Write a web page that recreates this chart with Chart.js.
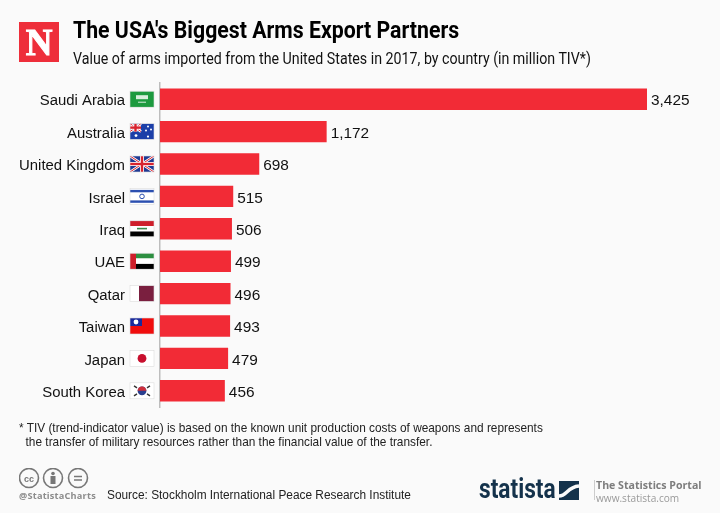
<!DOCTYPE html>
<html>
<head>
<meta charset="utf-8">
<script src="https://cdn.jsdelivr.net/npm/chart.js@4"></script>
<style>
  html, body { margin: 0; padding: 0; background: #fafafa; width: 720px; height: 513px; overflow: hidden; }
  #chart { position: absolute; left: 0; top: 0; }
  .txt { position: absolute; white-space: nowrap; transform-origin: left top; }
  #title { left: 73px; top: 17px; font: bold 23px Roboto, sans-serif; color: #000; transform: scaleX(0.925); }
  #subtitle { left: 73px; top: 49px; font: 16.5px Roboto, sans-serif; color: #111; transform: scaleX(0.862); }
  #logoN { position: absolute; left: 19px; top: 22px; width: 40px; height: 40px; background: #ee2e3a; color: #fff;
    font: bold 37px/42px "Liberation Serif", serif; text-align: center; -webkit-text-stroke: 1px #fff; }
  .note { left: 19px; font: 11.85px "Liberation Sans", sans-serif; color: #222; }
  #handle { left: 19px; top: 489px; font: bold 9.2px "Open Sans", sans-serif; color: #8c8c8c; letter-spacing: .2px; }
  #source { left: 107px; top: 488px; font: 11.87px "Liberation Sans", sans-serif; color: #222; }
  #statista { left: 479px; top: 473px; font: bold 27px Roboto, sans-serif; color: #14324b; transform: scaleX(0.84); }
  #portal { left: 596px; top: 478px; font: bold 10.6px "Open Sans", sans-serif; color: #7d7d7d; }
  #www { left: 596px; top: 491px; font: 10.1px "Open Sans", sans-serif; color: #9a9a9a; }
</style>
</head>
<body>
<canvas id="chart" width="720" height="513"></canvas>
<div id="logoN">N</div>
<div class="txt" id="title">The USA's Biggest Arms Export Partners</div>
<div class="txt" id="subtitle">Value of arms imported from the United States in 2017, by country (in million TIV*)</div>
<div class="txt note" style="top:421px">* TIV (trend-indicator value) is based on the known unit production costs of weapons and represents</div>
<div class="txt note" style="top:435px">&nbsp; the transfer of military resources rather than the financial value of the transfer.</div>
<svg style="position:absolute;left:19px;top:468px" width="72" height="22" fill="none" stroke="#777" stroke-width="1.6">
  <circle cx="10" cy="10" r="9.5"/><circle cx="34" cy="10" r="9.5"/><circle cx="59" cy="10" r="9.5"/>
  <text x="10" y="13.5" font-family="Liberation Sans" font-weight="bold" font-size="9" fill="#777" stroke="none" text-anchor="middle">cc</text>
  <circle cx="34" cy="5.5" r="1.8" fill="#777" stroke="none"/>
  <rect x="31.5" y="8" width="5" height="8" fill="#777" stroke="none"/>
  <path d="M55 8.5h8M55 12h8"/>
</svg>
<div class="txt" id="handle">@StatistaCharts</div>
<div class="txt" id="source">Source: Stockholm International Peace Research Institute</div>
<div class="txt" id="statista">statista</div>
<svg style="position:absolute;left:559px;top:481px" width="20" height="19">
  <rect width="20" height="19" fill="#14324b"/>
  <path d="M0 15C8 15 8 6 20 5" fill="none" stroke="#fafafa" stroke-width="3.5"/>
</svg>
<div style="position:absolute;left:594px;top:480px;width:1px;height:20px;background:#ccc"></div>
<div class="txt" id="portal">The Statistics Portal</div>
<div class="txt" id="www">www.statista.com</div>
<script>
document.addEventListener("DOMContentLoaded", () => {
  const countries = ["Saudi Arabia", "Australia", "United Kingdom", "Israel", "Iraq", "UAE", "Qatar", "Taiwan", "Japan", "South Korea"];
  const values = [3425, 1172, 698, 515, 506, 499, 496, 493, 479, 456];

  // flags are 24x16, drawn with origin at their top left corner
  const rect = (c, col, x, y, w, h) => { c.fillStyle = col; c.fillRect(x, y, w, h); };
  const disc = (c, col, x, y, r) => { c.fillStyle = col; c.beginPath(); c.arc(x, y, r, 0, Math.PI * 2); c.fill(); };
  const jack = (c, w, h) => {
    rect(c, "#1f3a93", 0, 0, w, h);
    c.lineWidth = 2.6; c.strokeStyle = "#fff";
    c.beginPath(); c.moveTo(0, 0); c.lineTo(w, h); c.moveTo(w, 0); c.lineTo(0, h); c.stroke();
    c.lineWidth = 1; c.strokeStyle = "#d8232f"; c.stroke();
    rect(c, "#fff", w / 2 - 2, 0, 4, h); rect(c, "#fff", 0, h / 2 - 2, w, 4);
    rect(c, "#d8232f", w / 2 - 1.2, 0, 2.4, h); rect(c, "#d8232f", 0, h / 2 - 1.2, w, 2.4);
  };
  const flags = {
    "Saudi Arabia": c => {
      rect(c, "#1d9a3f", 0, 0, 24, 16);
      rect(c, "#d8eedd", 6, 4, 12, 4);
      rect(c, "#d8eedd", 8, 10.5, 8, 1);
    },
    "Australia": c => {
      rect(c, "#1c3fa8", 0, 0, 24, 16);
      jack(c, 11, 8);
      [[6, 12, 1.4], [18, 3, 1], [21, 6, 1], [16, 7, 1], [18, 13, 1.1]].forEach(s => disc(c, "#fff", s[0], s[1], s[2]));
    },
    "United Kingdom": c => jack(c, 24, 16),
    "Israel": c => {
      rect(c, "#fff", 0, 0, 24, 16);
      rect(c, "#2b4fb0", 0, 1.5, 24, 2.4); rect(c, "#2b4fb0", 0, 12, 24, 2.4);
      c.strokeStyle = "#2b4fb0"; c.lineWidth = 1;
      c.beginPath(); c.arc(12, 8, 2.3, 0, Math.PI * 2); c.stroke();
    },
    "Iraq": c => {
      rect(c, "#ce1f2b", 0, 0, 24, 5.3); rect(c, "#fff", 0, 5.3, 24, 5.4); rect(c, "#000", 0, 10.7, 24, 5.3);
      rect(c, "#3c8a4c", 7, 7, 10, 1.6);
    },
    "UAE": c => {
      rect(c, "#2d8f41", 6, 0, 18, 5.3); rect(c, "#fff", 6, 5.3, 18, 5.4); rect(c, "#000", 6, 10.7, 18, 5.3);
      rect(c, "#ce1f2b", 0, 0, 6, 16);
    },
    "Qatar": c => { rect(c, "#fff", 0, 0, 24, 16); rect(c, "#7a1f3f", 9, 0, 15, 16); },
    "Taiwan": c => {
      rect(c, "#f00d0d", 0, 0, 24, 16); rect(c, "#1a2a9c", 0, 0, 12, 8);
      disc(c, "#fff", 6, 4, 2.4);
    },
    "Japan": c => { rect(c, "#fff", 0, 0, 24, 16); disc(c, "#c8102e", 12, 8, 4.4); },
    "South Korea": c => {
      rect(c, "#fff", 0, 0, 24, 16);
      disc(c, "#2a3f8f", 12, 8, 4.4);
      c.fillStyle = "#cd2e3a"; c.beginPath(); c.arc(12, 8, 4.4, Math.PI, 0); c.fill();
      c.strokeStyle = "#333"; c.lineWidth = 1.4;
      c.beginPath();
      [[4, 3, 7, 5], [20, 3, 17, 5], [4, 13, 7, 11], [20, 13, 17, 11]].forEach(l => { c.moveTo(l[0], l[1]); c.lineTo(l[2], l[3]); });
      c.stroke();
    }
  };

  // flags and value labels sit next to the bars
  const extras = {
    id: "extras",
    afterDatasetsDraw(chart) {
      const c = chart.ctx;
      const bars = chart.getDatasetMeta(0).data;
      c.save();
      bars.forEach((bar, i) => {
        c.fillStyle = "#111";
        c.font = '15.4px "Liberation Sans", sans-serif';
        c.textAlign = "left";
        c.textBaseline = "middle";
        c.fillText(values[i].toLocaleString("en-US"), bar.x + 4, bar.y + 2);
        c.save();
        c.translate(130, bar.y - 8);
        c.beginPath(); c.rect(0, 0, 24, 16); c.clip();
        flags[countries[i]](c);
        c.restore();
        c.strokeStyle = "#dcdcdc"; c.lineWidth = 0.6;
        c.strokeRect(130, bar.y - 8, 24, 16);
      });
      c.restore();
    }
  };

  new Chart(document.getElementById("chart"), {
    type: "bar",
    plugins: [extras],
    data: {
      labels: countries,
      datasets: [{ data: values, backgroundColor: "#f22b36", barPercentage: 0.66, categoryPercentage: 1 }]
    },
    options: {
      indexAxis: "y",
      responsive: false,
      animation: false,
      layout: { padding: { top: 83, bottom: 106, right: 73, left: 0 } },
      plugins: { legend: { display: false }, tooltip: { enabled: false } },
      scales: {
        x: { display: false, min: 0, max: 3425 },
        y: {
          afterFit: s => { s.width = 160; },
          grid: { display: false, drawTicks: false },
          border: { display: true, color: "#bdbdbd", width: 1.5 },
          ticks: { padding: 35, labelOffset: 2, color: "#111", autoSkip: false, font: { family: "Liberation Sans", size: 14.9 } }
        }
      }
    }
  });
});
</script>
</body>
</html>
